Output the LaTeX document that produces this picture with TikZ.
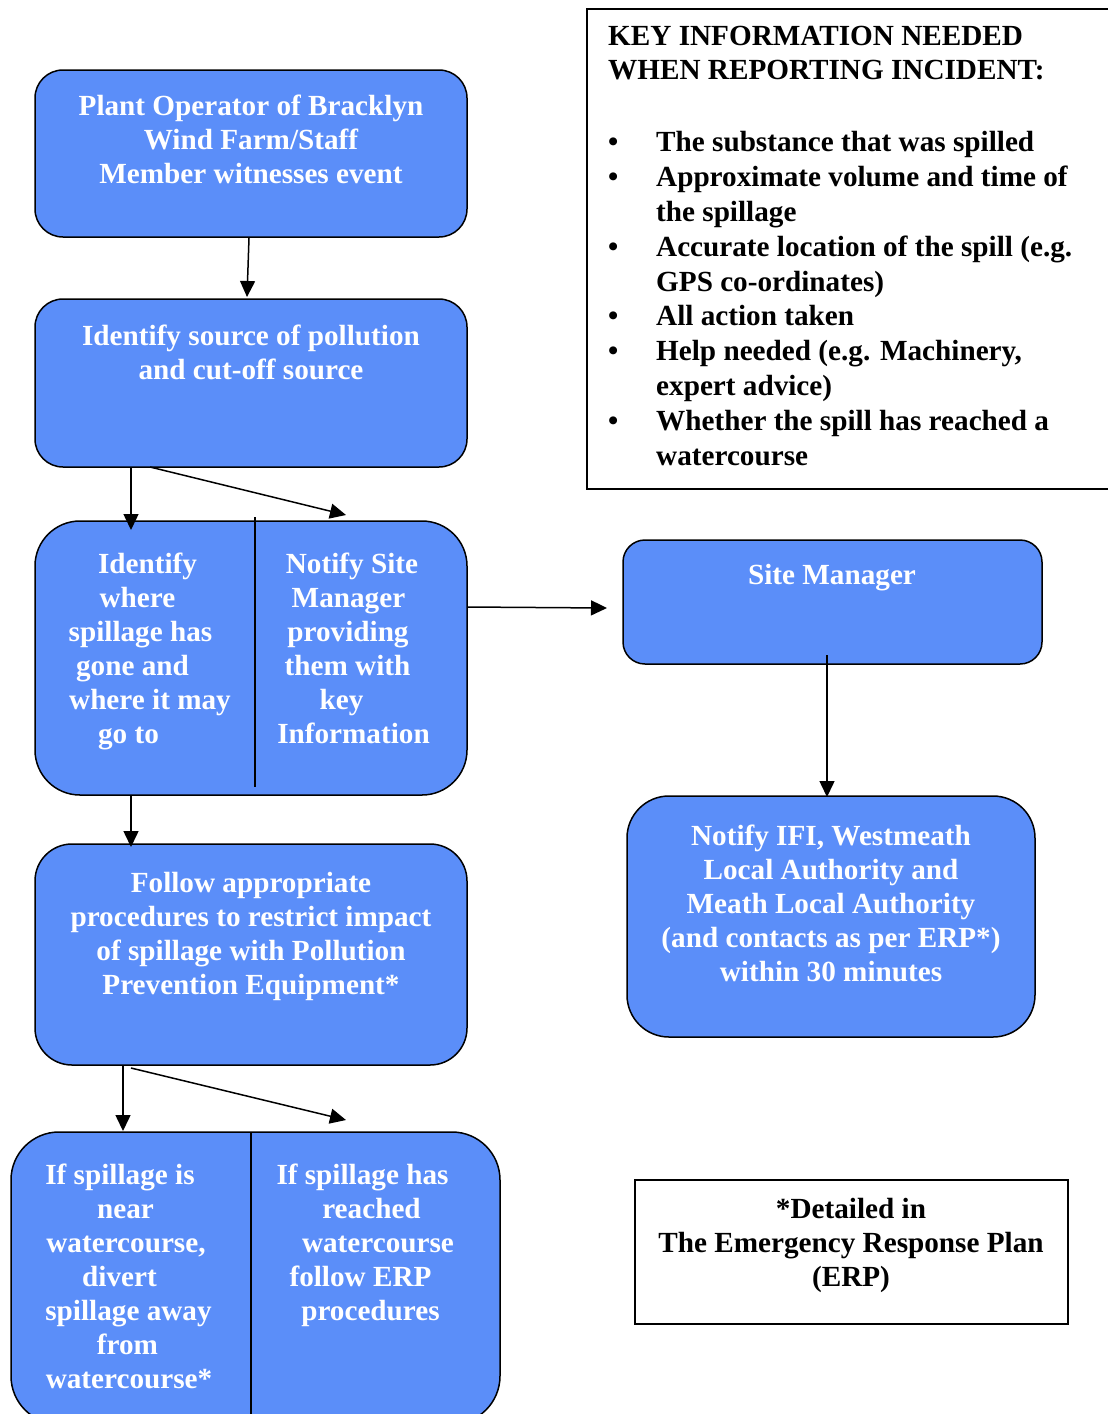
\documentclass[tikz,border=0pt]{standalone}
\usepackage{fontspec}
\setmainfont{Liberation Serif}
\usetikzlibrary{arrows.meta}
\definecolor{boxblue}{RGB}{91,142,249}
\newcommand\lnshift[2]{\hspace*{#1pt}#2}
\begin{document}
\begin{tikzpicture}[x=1pt,y=-1pt,
  flowbox/.style={draw=black, line width=1.5pt, fill=boxblue, inner sep=0pt},
  plainbox/.style={draw=black, line width=1.5pt, fill=white, inner sep=0pt},
  wtext/.style={text=white, font=\bfseries\fontsize{29.2}{34}\selectfont, align=center, inner sep=0pt, anchor=north},
  btext/.style={text=black, font=\bfseries\fontsize{29.2}{34}\selectfont, align=center, inner sep=0pt, anchor=north},
  arr/.style={line width=1.5pt, -{Triangle[length=16pt,width=15pt]}},
  divider/.style={line width=1.5pt}]
\useasboundingbox (0,0) rectangle (1108,1414);
\clip (0,0) rectangle (1108,1414);
\fill[white] (0,0) rectangle (1108,1414);

% boxes
\node[flowbox, rounded corners=28pt, minimum width=432pt, minimum height=167pt] (A) at (251,153.5) {};
\node[flowbox, rounded corners=28pt, minimum width=432pt, minimum height=168pt] (B) at (251,383) {};
\node[flowbox, rounded corners=45pt, minimum width=432pt, minimum height=274pt] (C) at (251,658) {};
\node[flowbox, rounded corners=22pt, minimum width=419pt, minimum height=124pt] (D) at (832.5,602) {};
\node[flowbox, rounded corners=42pt, minimum width=408pt, minimum height=241pt] (E) at (831,916.5) {};
\node[flowbox, rounded corners=37pt, minimum width=432pt, minimum height=221pt] (F) at (251,954.5) {};
\node[flowbox, rounded corners=48pt, minimum width=489pt, minimum height=292pt] (G) at (255.5,1278) {};
\node[plainbox, minimum width=433pt, minimum height=144pt] (H) at (851.5,1252) {};
\node[plainbox, minimum width=528pt, minimum height=480pt] (K) at (851,249) {};

% dividers
\draw[divider] (255,517) -- (255,787);
\draw[divider] (251,1132) -- (251,1420);

% texts
\node[wtext] (tA) at (251,95) {Plant Operator of Bracklyn\\Wind Farm/Staff\\Member witnesses event};
\node[wtext] (tB) at (251,325) {Identify source of pollution\\and cut-off source};
\node[wtext] (tC1) at (140,553) {\lnshift{15}{Identify}\\\lnshift{-5}{where}\\\lnshift{1}{spillage has}\\\lnshift{-15}{gone and}\\\lnshift{20}{where it may}\\\lnshift{-23}{go to}};
\node[wtext] (tC2) at (348.5,553) {\lnshift{7}{Notify Site}\\Manager\\\lnshift{-1}{providing}\\\lnshift{-2}{them with}\\\lnshift{-14}{key}\\\lnshift{10}{Information}};
\node[wtext] (tD) at (832,564) {Site Manager};
\node[wtext] (tE) at (831,825) {Notify IFI, Westmeath\\Local Authority and\\Meath Local Authority\\(and contacts as per ERP*)\\within 30 minutes};
\node[wtext] (tF) at (251,872) {Follow appropriate\\procedures to restrict impact\\of spillage with Pollution\\Prevention Equipment*};
\node[wtext] (tG1) at (125,1164) {\lnshift{-10}{If spillage is}\\\lnshift{1}{near}\\\lnshift{2}{watercourse,}\\\lnshift{-11}{divert}\\\lnshift{7}{spillage away}\\\lnshift{5}{from}\\\lnshift{8}{watercourse*}};
\node[wtext] (tG2) at (368.5,1164) {\lnshift{-12}{If spillage has}\\\lnshift{6}{reached}\\\lnshift{19}{watercourse}\\\lnshift{-16}{follow ERP}\\\lnshift{4}{procedures}};
\node[btext] (tH) at (851,1198) {*Detailed in\\The Emergency Response Plan\\(ERP)};

\node[btext, anchor=north west, align=left] (tKh) at (608,26) {KEY INFORMATION NEEDED\\WHEN REPORTING INCIDENT:};
\node[anchor=north west, align=left, inner sep=0pt, font=\bfseries\fontsize{29.2}{34.9}\selectfont] (tKb) at (608,131) {%
\makebox[48pt][l]{•}The substance that was spilled\\
\makebox[48pt][l]{•}Approximate volume and time of\\
\hspace*{48pt}the spillage\\
\makebox[48pt][l]{•}Accurate location of the spill (e.g.\\
\hspace*{48pt}GPS co-ordinates)\\
\makebox[48pt][l]{•}All action taken\\
\makebox[48pt][l]{•}Help needed (e.g. Machinery,\\
\hspace*{48pt}expert advice)\\
\makebox[48pt][l]{•}Whether the spill has reached a\\
\hspace*{48pt}watercourse};

% connector endpoints
\coordinate (a1) at (249,238);
\coordinate (b1) at (247,297);
\coordinate (bs1) at (131,467);
\coordinate (ct1) at (131,530);
\coordinate (bs2) at (150,467);
\coordinate (ct2) at (346,515);
\coordinate (ce) at (467,607);
\coordinate (dw) at (607,608);
\coordinate (ds) at (827,655);
\coordinate (en) at (827,797);
\coordinate (cs) at (131,795);
\coordinate (fn) at (131,847);
\coordinate (fs1) at (123,1065);
\coordinate (gt1) at (123,1131);
\coordinate (fs2) at (131,1068);
\coordinate (gt2) at (346,1120);

% connectors
\draw[arr] (a1) -- (b1);
\draw[arr] (bs1) -- (ct1);
\draw[arr] (bs2) -- (ct2);
\draw[arr] (ce) -- (dw);
\draw[arr] (ds) -- (en);
\draw[arr] (cs) -- (fn);
\draw[arr] (fs1) -- (gt1);
\draw[arr] (fs2) -- (gt2);
\end{tikzpicture}
\end{document}
